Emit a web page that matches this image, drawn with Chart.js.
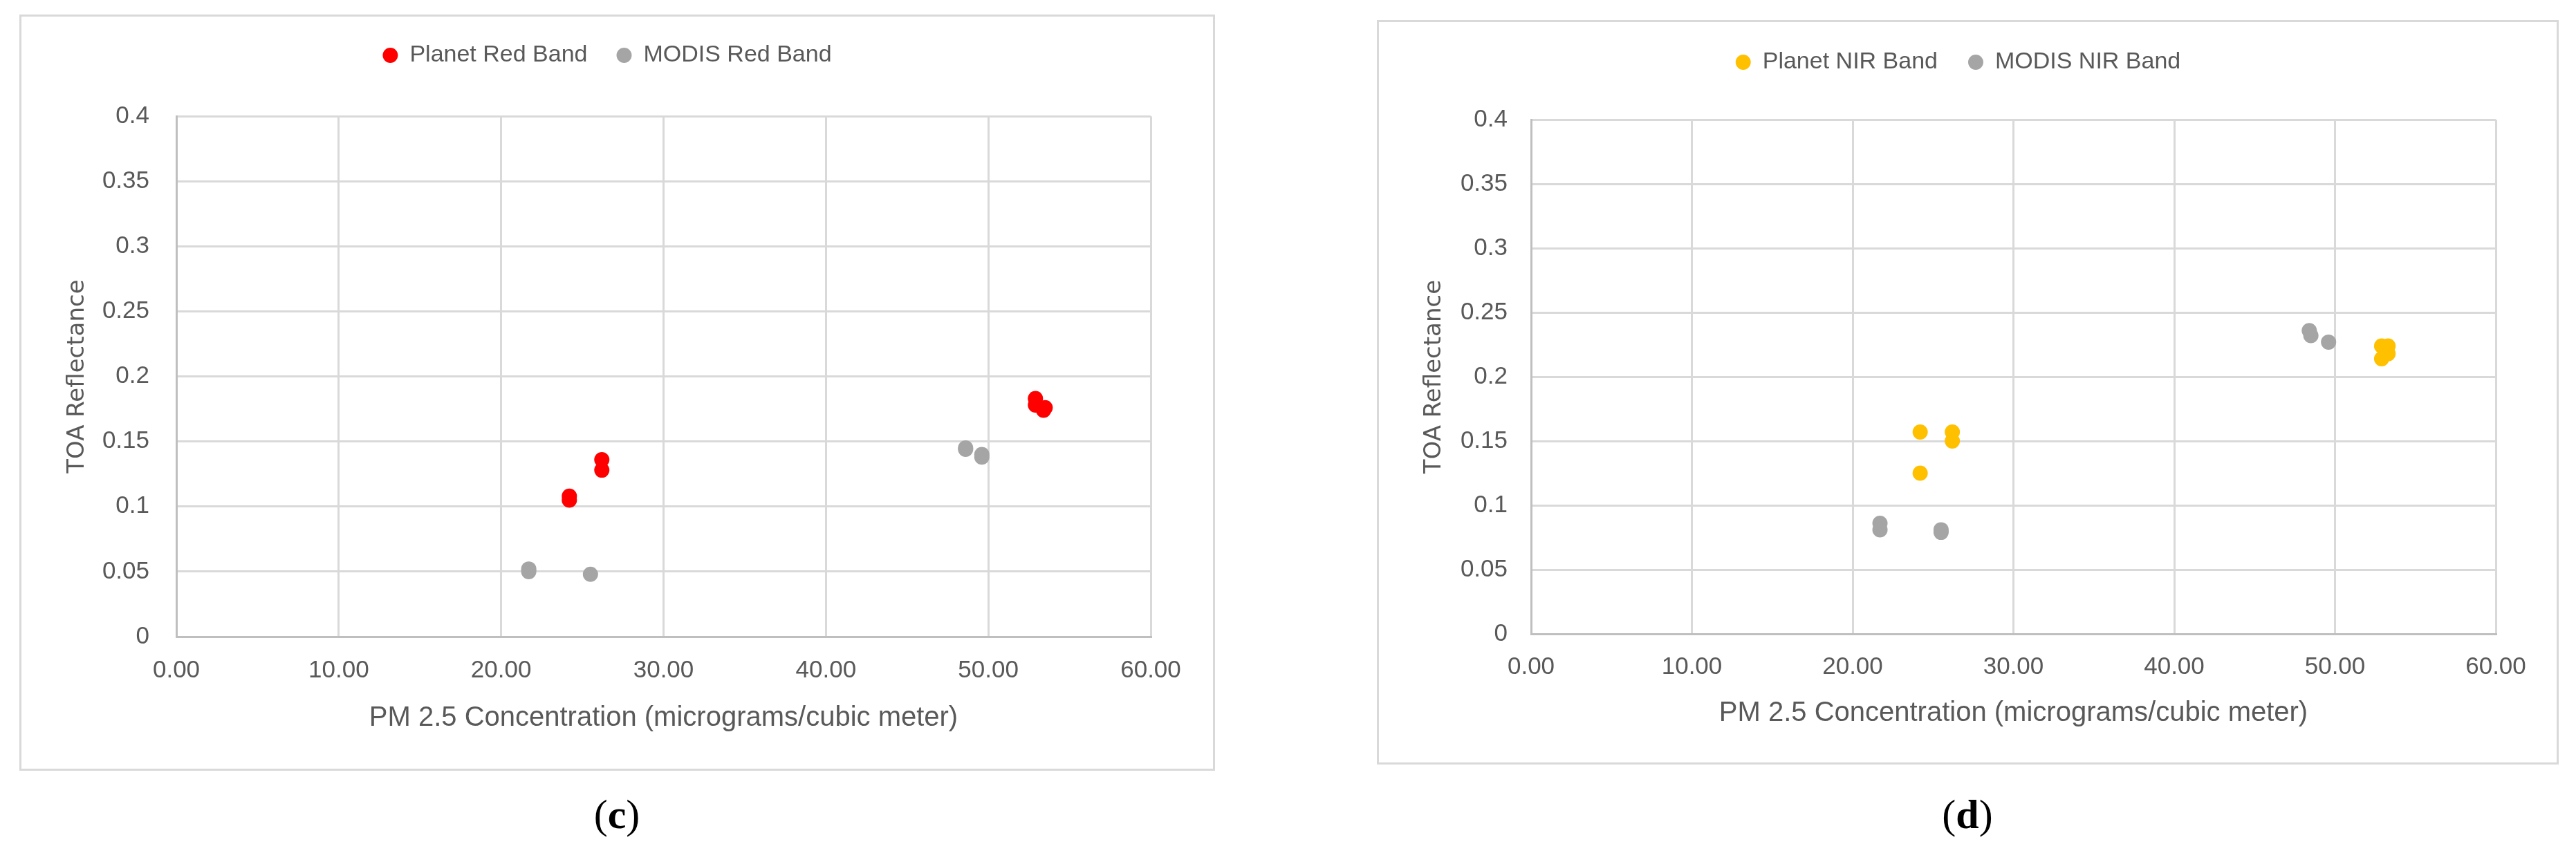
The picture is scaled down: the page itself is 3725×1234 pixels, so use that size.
<!DOCTYPE html>
<html>
<head>
<meta charset="utf-8">
<script src="https://cdn.jsdelivr.net/npm/chart.js@4.4.1/dist/chart.umd.min.js"></script>
<style>
  body { margin: 0; width: 3725px; height: 1234px; background: #fff; position: relative; overflow: hidden; }
  .frame { position: absolute; border: 3px solid #d9d9d9; box-sizing: border-box; }
  canvas { position: absolute; }
  .cap { position: absolute; font-family: 'Liberation Serif', serif; font-size: 60px; line-height: 1; color: #000; transform: translate(-50%, -50%); }
  .cap b { font-weight: bold; }
</style>
</head>
<body>
<div class="frame" style="left:28px;top:21px;width:1729px;height:1094px"></div>
<canvas id="chartC" width="1729" height="1094" style="left:28px;top:21px"></canvas>
<div class="cap" style="left:892px;top:1178px">(<b>c</b>)</div>

<div class="frame" style="left:1991px;top:29px;width:1709px;height:1077px"></div>
<canvas id="chartD" width="1709" height="1077" style="left:1991px;top:29px"></canvas>
<div class="cap" style="left:2845px;top:1178px">(<b>d</b>)</div>

<script>
// tick labels as Excel shows them
const xTickLabels = ['0.00', '10.00', '20.00', '30.00', '40.00', '50.00', '60.00'];
const yTickLabels = ['0', '0.05', '0.1', '0.15', '0.2', '0.25', '0.3', '0.35', '0.4'];

// (c) red band
const planetRedPm  = [24.2, 24.2, 26.2, 26.2, 52.9, 52.9, 53.5, 53.4];
const planetRedToa = [0.108, 0.105, 0.136, 0.128, 0.183, 0.178, 0.176, 0.174];
const modisRedPm   = [21.7, 21.7, 25.5, 48.6, 48.6, 49.6, 49.6];
const modisRedToa  = [0.052, 0.050, 0.048, 0.145, 0.144, 0.140, 0.138];

// (d) NIR band
const planetNirPm  = [24.2, 24.2, 26.2, 26.2, 52.9, 53.3, 53.3, 52.9];
const planetNirToa = [0.157, 0.125, 0.157, 0.150, 0.224, 0.224, 0.218, 0.214];
const modisNirPm   = [21.7, 21.7, 25.5, 25.5, 48.4, 48.5, 49.6];
const modisNirToa  = [0.086, 0.081, 0.081, 0.079, 0.236, 0.232, 0.227];

const sans = "'Liberation Sans', Arial, sans-serif";
const grey = '#595959';

function pts(xs, ys) {
  return xs.map((x, i) => ({ x: x, y: ys[i] }));
}

function makeChart(id, series, box) {
  return new Chart(document.getElementById(id), {
    type: 'scatter',
    data: {
      datasets: series.map(s => ({
        label: s.label,
        data: pts(s.x, s.y),
        backgroundColor: s.color,
        borderColor: s.color,
        borderWidth: 0,
        pointRadius: 11,
        pointHoverRadius: 11
      }))
    },
    options: {
      responsive: false,
      animation: false,
      devicePixelRatio: 1,
      layout: { padding: { left: box.padLeft, right: box.padRight, top: 0, bottom: 0 } },
      plugins: {
        legend: {
          weight: 3000,
          labels: {
            usePointStyle: true,
            pointStyle: 'circle',
            boxWidth: 22,
            boxHeight: 15.5,
            padding: box.legendPad,
            color: grey,
            font: { family: sans, size: 34 }
          }
        },
        // empty title used as gap between legend and plot
        title: { display: true, text: '', font: { size: 1 }, padding: { top: 0, bottom: box.gap } },
        tooltip: { enabled: false }
      },
      scales: {
        x: {
          type: 'linear',
          min: 0,
          max: 60,
          afterFit: s => { s.height = box.xHeight; },
          ticks: {
            stepSize: 10,
            autoSkip: false,
            maxRotation: 0,
            padding: box.xTickPad,
            color: grey,
            font: { family: sans, size: 35 },
            callback: (v, i) => xTickLabels[i]
          },
          grid: { color: '#d9d9d9', lineWidth: 3, drawTicks: false },
          border: { color: '#bfbfbf', width: 3 },
          title: {
            display: true,
            text: 'PM 2.5 Concentration (micrograms/cubic meter)',
            color: grey,
            font: { family: sans, size: 40 },
            padding: { top: 0, bottom: box.xTitlePad }
          }
        },
        y: {
          min: 0,
          max: 0.4,
          afterFit: s => { s.width = box.yWidth; },
          ticks: {
            stepSize: 0.05,
            autoSkip: false,
            padding: box.yTickPad,
            color: grey,
            font: { family: sans, size: 35 },
            callback: (v, i) => yTickLabels[i]
          },
          grid: { color: '#d9d9d9', lineWidth: 3, drawTicks: false },
          border: { color: '#bfbfbf', width: 3 },
          title: {
            display: true,
            text: 'TOA Reflectance',
            color: grey,
            font: { family: "'DejaVu Sans', sans-serif", size: 34 },
            padding: { top: 0, bottom: 0 }
          }
        }
      }
    }
  });
}

makeChart('chartC', [
  { label: 'Planet Red Band', x: planetRedPm, y: planetRedToa, color: '#FF0000' },
  { label: 'MODIS Red Band', x: modisRedPm, y: modisRedToa, color: '#A5A5A5' }
], { padLeft: 64, padRight: 93, yWidth: 163, yTickPad: 39, xHeight: 194, xTickPad: 28, xTitlePad: 52, legendPad: 42, gap: 60 });

makeChart('chartD', [
  { label: 'Planet NIR Band', x: planetNirPm, y: planetNirToa, color: '#FFC000' },
  { label: 'MODIS NIR Band', x: modisNirPm, y: modisNirToa, color: '#A5A5A5' }
], { padLeft: 63, padRight: 91, yWidth: 160, yTickPad: 34, xHeight: 189, xTickPad: 27, xTitlePad: 50, legendPad: 44, gap: 55 });
</script>
</body>
</html>
